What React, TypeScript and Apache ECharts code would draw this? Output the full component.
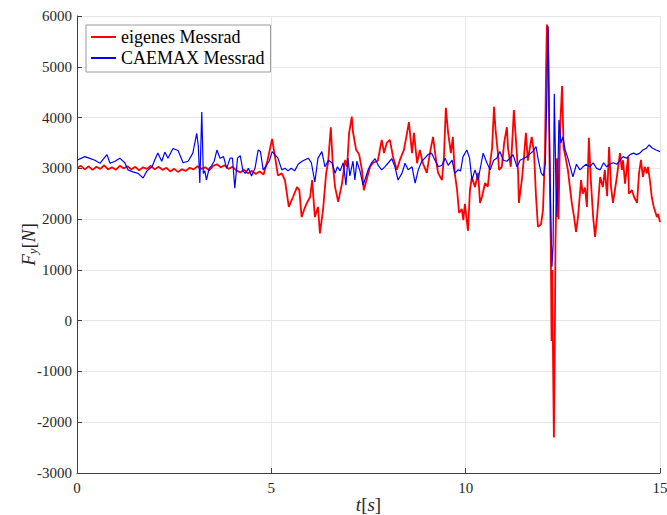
import React, { useEffect, useRef } from "react";
import * as echarts from "echarts";

const xTicks = [0, 5, 10, 15];
const yMin = -3000;
const yMax = 6000;

const redTime = [
  0, 0.1, 0.2, 0.3, 0.4, 0.5, 0.6, 0.7, 0.8, 0.9, 1.0, 1.1, 1.2, 1.3, 1.4, 1.5, 1.6, 1.7, 1.8, 1.9,
  2.0, 2.1, 2.2, 2.3, 2.4, 2.5, 2.6, 2.7, 2.8, 2.9, 3.0, 3.1, 3.2, 3.3, 3.4, 3.5, 3.6, 3.7, 3.8, 3.9,
  4.0, 4.1, 4.2, 4.3, 4.4, 4.5, 4.6, 4.7, 4.8, 4.9,
  5.02, 5.1, 5.17, 5.27, 5.35, 5.45, 5.56, 5.66, 5.72, 5.78, 5.85, 5.91, 6.0, 6.05, 6.12, 6.2, 6.25,
  6.33, 6.41, 6.46, 6.53, 6.58, 6.64, 6.72, 6.82, 6.9, 6.95, 7.0, 7.07, 7.1, 7.18, 7.26, 7.33, 7.38,
  7.46, 7.54, 7.62, 7.74, 7.84, 7.9, 7.97, 8.05, 8.13, 8.23, 8.31, 8.41, 8.49, 8.54, 8.62, 8.67, 8.75,
  8.82, 8.9, 9.0, 9.08, 9.16, 9.24, 9.29, 9.39, 9.44, 9.49, 9.55, 9.62, 9.67, 9.72, 9.78, 9.83, 9.9,
  9.94, 9.98, 10.06, 10.11, 10.16, 10.24, 10.32, 10.37, 10.42, 10.5, 10.57, 10.63, 10.68, 10.73, 10.77,
  10.83, 10.86, 10.93, 10.99, 11.06, 11.09, 11.16, 11.19, 11.24, 11.29, 11.35, 11.37, 11.45, 11.5,
  11.55, 11.6, 11.65, 11.7, 11.76, 11.81, 11.86, 11.94, 11.99, 12.04, 12.07, 12.09, 12.12, 12.16,
  12.19, 12.21, 12.23, 12.25, 12.27, 12.29, 12.31, 12.35, 12.39, 12.43, 12.48, 12.52, 12.55, 12.63,
  12.73, 12.79, 12.84, 12.89, 12.97, 13.01, 13.07, 13.12, 13.17, 13.22, 13.28, 13.33, 13.38, 13.46,
  13.53, 13.58, 13.64, 13.69, 13.74, 13.79, 13.84, 13.89, 13.97, 14.02, 14.05, 14.1, 14.18, 14.2,
  14.28, 14.33, 14.41, 14.46, 14.51, 14.56, 14.61, 14.66, 14.69, 14.74, 14.79, 14.84, 14.92, 14.95, 15.0,
];
const redForce = [
  3010, 3050, 2980, 3040, 2970, 3030, 2990, 3060, 2980, 3020, 2970, 3050, 3000, 3040, 2980, 3030, 2960, 3020, 2990, 3050,
  2980, 3030, 2970, 3010, 2940, 2990, 2930, 2980, 2950, 3010, 2980, 3040, 2990, 3020, 2960, 3050, 3080, 3020, 3060, 2990,
  3030, 2960, 2920, 2970, 2900, 2950, 2890, 2940, 2880, 3150,
  3580, 3200, 2860, 2900, 2770, 2240, 2440, 2630, 2570, 2040, 2200, 2310, 2440, 2770, 2040, 2240, 1720,
  2180, 2900, 3110, 3810, 3100, 2630, 2340, 2710, 3165, 3030, 3690, 4020, 3720, 3370, 3270, 2970, 2570,
  2800, 3030, 3110, 3150, 3560, 3300, 3500, 3560, 3230, 2970, 3170, 3360, 3690, 3910, 3300, 3700, 3100,
  3360, 3100, 2910, 3300, 3620, 3150, 2910, 2770, 3200, 4190, 3690, 3300, 3620, 2900, 2570, 2120, 2200,
  1980, 2300, 1770, 2570, 2830, 2630, 2910, 2320, 2440, 2710, 2640, 3110, 3400, 4210, 3750,
  3300, 2970, 3030, 3500, 3810, 3400, 3030, 3400, 4150, 3600, 2900, 2320, 2800, 3225,
  3700, 3150, 3400, 3620, 3300, 2440, 1850, 1900, 2180, 3300, 5000, 5830, 5700, 3000,
  1500, -400, 1000, -900, -2300, -800, 1500, 3200, 2000, 3800, 4620, 3400, 3300, 2970,
  2320, 2040, 1750, 2040, 2770, 2500, 2620, 2240, 3600, 2770, 2040, 1650, 2040, 2830,
  2630, 2970, 2450, 3420, 2630, 2320, 2570, 2830, 3300, 2970, 3160, 2700, 3225, 2500,
  2570, 2440, 2320, 2900, 3165, 2830, 3030, 2900, 3030, 2770, 2420, 2240, 2040, 2100, 1940,
];

const blueTime = [
  0, 0.2, 0.35, 0.46, 0.59, 0.77, 0.85, 0.98, 1.1, 1.23, 1.31, 1.44, 1.57, 1.7, 1.8, 1.93, 2.0, 2.08,
  2.18, 2.26, 2.34, 2.47, 2.6, 2.73, 2.86, 2.98, 3.08, 3.12, 3.16, 3.21, 3.25, 3.29, 3.33, 3.4, 3.46,
  3.53, 3.6, 3.68, 3.77, 3.85, 3.94, 4.0, 4.06, 4.13, 4.2, 4.27, 4.33, 4.41, 4.49, 4.58, 4.66, 4.72,
  4.79, 4.87, 4.95, 5.02, 5.09, 5.17, 5.27, 5.35, 5.43, 5.51, 5.6, 5.69, 5.79, 5.87, 5.95, 6.03, 6.12,
  6.2, 6.3, 6.38, 6.47, 6.56, 6.64, 6.7, 6.77, 6.85, 6.92, 6.97, 7.02, 7.1, 7.15, 7.2, 7.28, 7.36, 7.44,
  7.49, 7.58, 7.67, 7.75, 7.84, 7.92, 8.0, 8.1, 8.18, 8.26, 8.36, 8.44, 8.52, 8.62, 8.7, 8.78, 8.87,
  8.95, 9.03, 9.12, 9.21, 9.3, 9.39, 9.47, 9.55, 9.65, 9.72, 9.8, 9.87, 9.93, 10.03, 10.1, 10.16, 10.24,
  10.32, 10.4, 10.45, 10.55, 10.63, 10.72, 10.8, 10.88, 10.97, 11.06, 11.14, 11.22, 11.32, 11.4, 11.5,
  11.58, 11.66, 11.73, 11.81, 11.87, 11.94, 12.0, 12.05, 12.09, 12.12, 12.15, 12.19, 12.22, 12.25,
  12.28, 12.32, 12.35, 12.4, 12.45, 12.5, 12.56, 12.63, 12.7, 12.76, 12.85, 12.94, 13.02, 13.1, 13.2,
  13.28, 13.37, 13.46, 13.55, 13.63, 13.71, 13.8, 13.89, 13.97, 14.05, 14.14, 14.23, 14.32, 14.4,
  14.48, 14.56, 14.64, 14.72, 14.8, 14.9, 15.0,
];
const blueForce = [
  3160, 3230, 3190, 3160, 3100, 3270, 3100, 3140, 3200, 3110, 2970, 2930, 2900, 2810, 2950, 3030, 3165, 3300,
  3140, 3320, 3200, 3390, 3350, 3110, 3140, 3300, 3690, 3450, 2710, 4110, 2900, 2950, 2770, 3000, 3050,
  3140, 3360, 3200, 3230, 3000, 3200, 3200, 2610, 3200, 3250, 2950, 2900, 3000, 2850, 3000, 3360, 3330,
  2970, 3050, 3150, 3330, 3270, 3200, 2970, 3000, 2950, 3000, 2950, 3080, 3140, 3170, 3200, 3110, 2730,
  3200, 3330, 3030, 3160, 3110, 2900, 3030, 2950, 3110, 2670, 3200, 2850, 3140, 2770, 3140, 2950, 2670, 2850,
  2970, 3110, 3190, 3060, 2970, 3030, 3100, 3190, 3030, 2770, 2900, 3100, 2970, 3030, 2710, 2970, 3140,
  3200, 3270, 3300, 3160, 3030, 3060, 3200, 3060, 3160, 2900, 2970, 2950, 3225, 3360, 3200, 2770, 2970,
  2770, 3100, 3300, 3100, 2970, 3160, 3200, 3330, 3160, 3140, 3200, 3270, 3030, 3160, 3200,
  3230, 3290, 3330, 3430, 3160, 2910, 2850, 3100, 4500, 5800, 4000, 2040, 1060, 1500,
  4470, 2800, 2040, 3950, 3500, 3620, 3360, 3200, 3000, 2830, 3080, 2970, 3030, 3080, 3030,
  3110, 3000, 2970, 3110, 3030, 3080, 3110, 3080, 3160, 3230, 3200, 3270, 3300, 3270,
  3300, 3360, 3390, 3460, 3400, 3360, 3330,
];

const redName = "eigenes Messrad";
const blueName = "CAEMAX Messrad";

const FONT = "Liberation Serif";

export default function App() {
  const ref = useRef<HTMLDivElement>(null);
  useEffect(() => {
    if (!ref.current) return;
    document.body.style.margin = "0";
    document.body.style.overflow = "hidden";
    const chart = echarts.init(ref.current, undefined, { renderer: "svg" });
    const redData = redTime.map((t, i) => [t, redForce[i]]);
    const blueData = blueTime.map((t, i) => [t, blueForce[i]]);
    chart.setOption({
      animation: false,
      backgroundColor: "#ffffff",
      grid: { left: 77, right: 7, top: 16, bottom: 42, containLabel: false, outerBoundsMode: "none" },
      legend: {
        orient: "vertical",
        left: 86,
        top: 25,
        padding: [3, 6, 5, 5],
        itemGap: 3,
        itemWidth: 25,
        itemHeight: 2,
        icon: "rect",
        borderColor: "#9a9a9a",
        borderWidth: 1,
        backgroundColor: "#ffffff",
        textStyle: { fontFamily: FONT, fontSize: 18, color: "#000" },
        data: [redName, blueName],
      },
      xAxis: {
        type: "value",
        min: xTicks[0],
        max: xTicks[xTicks.length - 1],
        interval: 5,
        name: "{i|t}{n|[}{i|s}{n|]}",
        nameLocation: "middle",
        nameGap: 22,
        nameMoveOverlap: false,
        nameTextStyle: {
          rich: {
            i: { fontFamily: FONT, fontStyle: "italic", fontSize: 19, color: "#262626" },
            n: { fontFamily: FONT, fontSize: 19, color: "#262626" },
          },
        },
        axisLine: { show: true, onZero: false, lineStyle: { color: "#404040", width: 1 } },
        axisTick: { show: true, inside: true, length: 5, lineStyle: { color: "#404040" } },
        axisLabel: { fontFamily: FONT, fontSize: 15, color: "#262626", margin: 7 },
        splitLine: { show: true, lineStyle: { color: "#e6e6e6", width: 1 } },
      },
      yAxis: {
        type: "value",
        min: yMin,
        max: yMax,
        interval: 1000,
        name: "{i|F}{s|y}{n|[}{i|N}{n|]}",
        nameLocation: "middle",
        nameRotate: 90,
        nameGap: 38,
        nameMoveOverlap: false,
        nameTextStyle: {
          rich: {
            i: { fontFamily: FONT, fontStyle: "italic", fontSize: 19, color: "#262626" },
            s: { fontFamily: FONT, fontStyle: "italic", fontSize: 13, color: "#262626", verticalAlign: "bottom", padding: [8, 0, 0, 0] },
            n: { fontFamily: FONT, fontSize: 19, color: "#262626" },
          },
        },
        axisLine: { show: true, onZero: false, lineStyle: { color: "#404040", width: 1 } },
        axisTick: { show: true, inside: true, length: 5, lineStyle: { color: "#404040" } },
        axisLabel: {
          fontFamily: FONT,
          fontSize: 15,
          color: "#262626",
          margin: 5,
          formatter: (v: number) => String(v),
        },
        splitLine: { show: true, lineStyle: { color: "#e6e6e6", width: 1 } },
      },
      series: [
        {
          name: redName,
          type: "line",
          data: redData,
          symbol: "none",
          lineStyle: { color: "#ff0000", width: 1.8 },
          itemStyle: { color: "#ff0000" },
          z: 2,
        },
        {
          name: blueName,
          type: "line",
          data: blueData,
          symbol: "none",
          lineStyle: { color: "#0000ff", width: 1.2 },
          itemStyle: { color: "#0000ff" },
          z: 3,
        },
      ],
    });
    return () => chart.dispose();
  }, []);
  return <div ref={ref} style={{ width: 667, height: 515, position: "fixed", left: 0, top: 0 }} />;
}
